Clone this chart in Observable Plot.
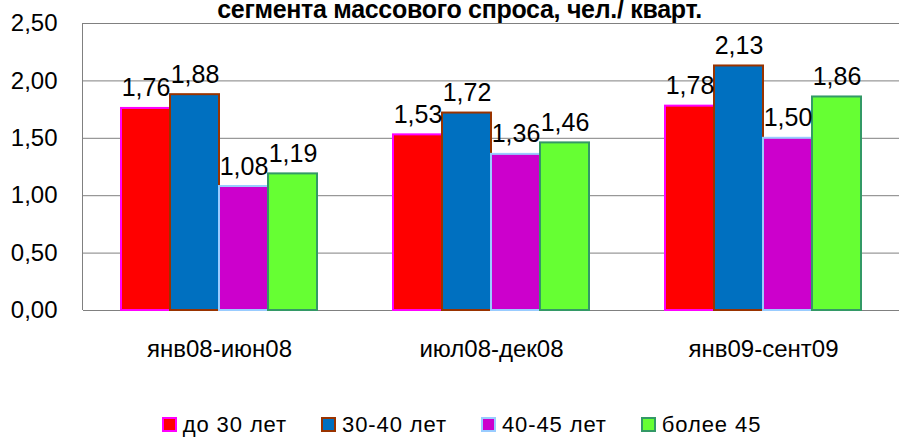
<!DOCTYPE html>
<html>
<head>
<meta charset="utf-8">
<script src="https://cdn.jsdelivr.net/npm/d3@7"></script>
<script src="https://cdn.jsdelivr.net/npm/@observablehq/plot@0.6"></script>
<style>
  html, body { margin: 0; padding: 0; background: #fff; }
  #wrap { position: relative; width: 907px; height: 437px; overflow: hidden; font-family: "Liberation Sans", Arial, sans-serif; }
  #chart { position: absolute; left: 0; top: 0; }
  #title { position: absolute; left: 6px; top: 0px; width: 907px; text-align: center; font-size: 25px; line-height: 18px; font-weight: bold; letter-spacing: -0.3px; color: #000; white-space: nowrap; }
  #legend { position: absolute; left: 8px; top: 410px; width: 907px; display: flex; justify-content: center; font-size: 22px; line-height: 29px; letter-spacing: 0.9px; color: #000; }
  .item { display: flex; align-items: center; margin: 0 17px; }
  .sw { width: 11px; height: 11px; border: 2px solid; margin-right: 6px; }
</style>
</head>
<body>
<div id="wrap"><div id="chart"></div><div id="title"></div><div id="legend"></div></div>
<script>
const periods = ["янв08-июн08", "июл08-дек08", "янв09-сент09"];
const seriesNames = ["до 30 лет", "30-40 лет", "40-45 лет", "более 45"];
const fills = ["#FF0000", "#0070C0", "#CC00CC", "#66FF33"];
const strokes = ["#FF00FF", "#993300", "#99CCFF", "#339966"];
const values = [
  [1.76, 1.53, 1.78],
  [1.88, 1.72, 2.13],
  [1.08, 1.36, 1.50],
  [1.19, 1.46, 1.86]
];
const yTicks = [0, 0.5, 1, 1.5, 2, 2.5];
const title = "сегмента массового спроса, чел./ кварт.";

const data = [];
periods.forEach((p, i) => seriesNames.forEach((s, j) => data.push({period: p, series: s, value: values[j][i], fill: fills[j], stroke: strokes[j]})));

const fmt = d => d.toFixed(2).replace(".", ",");

const plot = Plot.plot({
  width: 907,
  height: 390,
  marginTop: 23,
  marginBottom: 80,
  marginLeft: 82,
  marginRight: 7,
  style: {fontFamily: "'Liberation Sans', Arial, sans-serif", color: "#000", background: "transparent"},
  fx: {domain: periods, padding: 0, label: null, axis: null},
  x: {domain: seriesNames, paddingInner: 0, paddingOuter: 0.73, axis: null},
  y: {domain: [0, 2.5], ticks: yTicks, axis: null},
  color: {type: "identity"},
  marks: [
    Plot.ruleY(yTicks, {stroke: "#808080", strokeWidth: 1, strokeOpacity: 1}),
    Plot.axisY({ticks: yTicks, tickFormat: fmt, tickSize: 0, tickPadding: 26, fontSize: 24, label: null, style: {letterSpacing: "-1px"}}),
    Plot.barY(data, {fx: "period", x: "series", y: "value", fill: "fill", stroke: "stroke", strokeWidth: 2}),
    Plot.text(data, {fx: "period", x: "series", y: "value", text: d => fmt(d.value), dy: -12, lineAnchor: "bottom", fontSize: 25, fill: "#000", style: {letterSpacing: "-1px"}}),
    Plot.axisFx({domain: periods, tickSize: 0, tickPadding: 29, fontSize: 24, label: null, anchor: "bottom", style: {letterSpacing: "-0.3px"}})
  ]
});
document.getElementById("chart").appendChild(plot);

// left axis line, placed with the plot's own y scale
const ys = plot.scale("y");
d3.select(plot).append("line")
  .attr("x1", 82.5).attr("x2", 82.5)
  .attr("y1", ys.apply(0)).attr("y2", ys.apply(2.5))
  .attr("stroke", "#808080").attr("stroke-width", 1);

document.getElementById("title").textContent = title;

const legend = document.getElementById("legend");
seriesNames.forEach((s, j) => {
  const it = document.createElement("div");
  it.className = "item";
  const sw = document.createElement("span");
  sw.className = "sw";
  sw.style.background = fills[j];
  sw.style.borderColor = strokes[j];
  it.appendChild(sw);
  const t = document.createElement("span");
  t.textContent = s;
  it.appendChild(t);
  legend.appendChild(it);
});
</script>
</body>
</html>
